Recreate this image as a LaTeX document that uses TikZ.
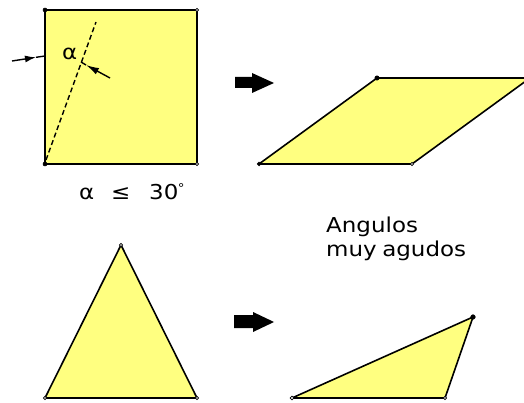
\documentclass[tikz,border=0pt]{standalone}
\usepackage{fontspec}
\setmainfont{DejaVu Sans}
\usetikzlibrary{arrows.meta}
\definecolor{figfill}{RGB}{255,255,128}
\begin{document}
\begin{tikzpicture}[x=1pt,y=-1pt,
  figshape/.style={draw=black,fill=figfill,line width=1.6pt,line join=round},
  vfill/.style={fill=black,draw=black,line width=0.5pt},
  vopen/.style={fill=white,draw=black,line width=0.7pt},
  blockarrow/.style={fill=black,draw=none},
  thin line/.style={line width=1.4pt},
  lbl/.style={inner sep=0pt,anchor=base west,font=\fontsize{20.5}{23}\selectfont,xscale=1.12}]
\useasboundingbox (0,0) rectangle (524,403);
\fill[white] (0,0) rectangle (524,403);
% square
\coordinate (s1) at (45,10);
\coordinate (s2) at (197,10);
\coordinate (s3) at (197,164);
\coordinate (s4) at (45,164);
\draw[figshape] (s1) -- (s2) -- (s3) -- (s4) -- cycle;
\coordinate (d1) at (46,160);
\coordinate (d2) at (96,22);
\draw[thin line,dash pattern=on 5pt off 3pt] (d1) -- (d2);
% left arrow
\coordinate (la0) at (12,61);
\coordinate (la1) at (36,57.3);
\coordinate (la2) at (45,56);
\draw[thin line,-{Latex[length=11pt,width=7pt]}] (la0) -- (la1);
\draw[thin line] (la1) -- (la2);
% right arrow
\coordinate (ra0) at (110,78);
\coordinate (ra1) at (86,65);
\coordinate (ra2) at (81,62);
\draw[thin line,-{Latex[length=13pt,width=7pt]}] (ra0) -- (ra1);
\draw[thin line] (ra1) -- (ra2);
\node[lbl] (alpha) at (62,60) {α};
\fill[vfill] (s1) circle (2);
\fill[vfill] (s4) circle (2);
\filldraw[vopen] (s2) circle (1.7);
\filldraw[vopen] (s3) circle (1.7);
% condition text
\node[lbl] (cond) at (79,200) {α};
\node[lbl] (le) at (111,200) {≤};
\node[lbl] (thirty) at (149,200) {30\kern-0.5pt\raisebox{7pt}{\fontsize{12}{12}\selectfont °}};
% top block arrow
\fill[blockarrow] (235,77) -- (252,77) -- (252,73) -- (274,83) -- (252,93) -- (252,88) -- (235,88) -- cycle;
% parallelogram
\begin{scope}
\clip (0,0) rectangle (524,403);
\coordinate (p1) at (259,164);
\coordinate (p2) at (412,164);
\coordinate (p3) at (530,78);
\coordinate (p4) at (377,78);
\draw[figshape] (p1) -- (p2) -- (p3) -- (p4) -- cycle;
\end{scope}
\fill[vfill] (p4) circle (2.2);
\fill[vfill] (p1) circle (1.9);
\filldraw[vopen] (p2) circle (1.7);
% text
\node[lbl] (t1) at (326,233) {Angulos};
\node[lbl] (t2) at (326,256) {muy\hspace{5pt}agudos};
% triangle
\coordinate (a1) at (121,245);
\coordinate (a2) at (197,398);
\coordinate (a3) at (45,398);
\draw[figshape] (a1) -- (a2) -- (a3) -- cycle;
\filldraw[vopen] (a1) circle (1.7);
\filldraw[vopen] (a2) circle (1.7);
\filldraw[vopen] (a3) circle (1.7);
% bottom block arrow
\fill[blockarrow] (234,315) -- (253,315) -- (253,312) -- (274,322) -- (253,332) -- (253,328) -- (234,328) -- cycle;
% obtuse triangle
\coordinate (b1) at (292,398);
\coordinate (b2) at (445,398);
\coordinate (b3) at (473,317);
\draw[figshape] (b1) -- (b2) -- (b3) -- cycle;
\filldraw[vopen] (b1) circle (1.9);
\filldraw[vopen] (b2) circle (1.7);
\fill[vfill] (b3) circle (2.3);
\end{tikzpicture}
\end{document}
